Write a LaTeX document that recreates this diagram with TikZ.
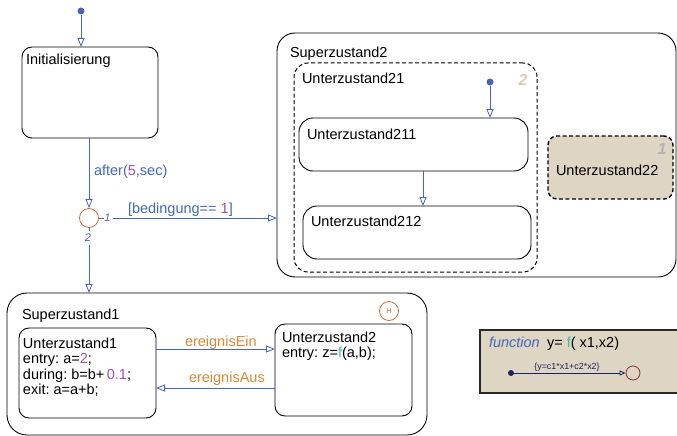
\documentclass[tikz,border=0pt]{standalone}
\usepackage{fontspec}
\setmainfont{Liberation Sans}
\usetikzlibrary{arrows.meta}
\frenchspacing
\definecolor{cblue}{RGB}{76,100,178}
\definecolor{tblue}{RGB}{66,104,182}
\definecolor{cpurple}{RGB}{158,82,168}
\definecolor{corange}{RGB}{214,138,58}
\definecolor{cjunc}{RGB}{198,112,62}
\definecolor{ctan}{RGB}{222,213,194}
\definecolor{ctannum}{RGB}{218,204,180}
\definecolor{cgraynum}{RGB}{178,178,178}
\definecolor{cteal}{RGB}{64,188,176}
\definecolor{cnavy}{RGB}{30,34,96}
\definecolor{cdred}{RGB}{140,48,52}
\definecolor{cframe}{RGB}{40,40,40}
\tikzset{
  txt/.style={anchor=base west, inner sep=0pt, outer sep=0pt, font=\fontsize{14.5}{17}\selectfont},
  statebox/.style={draw=black, line width=0.9pt, rounded corners=10pt, anchor=north west,
    inner sep=0pt, outer sep=0pt},
  dashbox/.style={statebox, line width=1pt, dash pattern=on 4pt off 2.5pt},
  conn/.style={draw=cblue, line width=0.8pt, -{Triangle[open,length=9pt,width=7pt]}},
  plainline/.style={draw=cblue, line width=0.8pt},
  dot/.style={circle, fill=cblue, inner sep=0pt, minimum size=7pt},
  jnum/.style={inner sep=0pt, text=cblue, font=\fontsize{11}{13}\selectfont\itshape},
  ordnum/.style={inner sep=0pt, font=\fontsize{16}{18}\selectfont\bfseries\itshape},
}
\begin{document}
\begin{tikzpicture}[x=1pt,y=-1pt]
\useasboundingbox (0,0) rectangle (677,436);

% ---------- Initialisierung and junction ----------
\node[statebox, minimum width=136pt, minimum height=91pt] (init) at (22,47) {};
\node[txt] (initT) at (26,65) {Initialisierung};
\node[dot] (d0) at (81,11) {};
\draw[conn] (d0) -- (d0 |- init.north);

\node[circle, draw=cjunc, line width=0.8pt, minimum size=19pt, inner sep=0pt] (j) at (89,218) {};
\draw[conn] (init.south -| j) -- (j.north);
\node[txt, text=tblue] (afterT) at (94,175) {after(\textcolor{cpurple}{5},sec)};

% branch 1 to Superzustand2
\coordinate (j1end) at (104,218);
\coordinate (j1start) at (113,218);
\draw[plainline] (j.east) -- (j1end);
\node[jnum] (n1) at (107.5,218) {1};
\node[txt, text=tblue] (condT) at (128,213) {[bedingung== \textcolor{cpurple}{1}]};

% branch 2 to Superzustand1
\coordinate (j2end) at (89,231);
\coordinate (j2start) at (89,245);
\draw[plainline] (j.south) -- (j2end);
\node[jnum] (n2) at (88,238) {2};

% ---------- Superzustand2 ----------
\node[statebox, rounded corners=18pt, minimum width=399pt, minimum height=244pt] (sz2) at (277,33) {};
\node[txt] (sz2T) at (290,57) {Superzustand2};
\draw[conn] (j1start) -- (sz2.west |- j1start);

\node[dashbox, rounded corners=14pt, minimum width=243pt, minimum height=209pt] (u21) at (294,63) {};
\node[txt] (u21T) at (302,84) {Unterzustand21};
\node[ordnum, text=ctannum] (o2) at (523,80) {2};
\node[dot] (d1) at (490,82) {};

\node[statebox, rounded corners=14pt, minimum width=229pt, minimum height=53pt] (u211) at (299,118) {};
\node[txt] (u211T) at (307,139) {Unterzustand211};
\node[statebox, rounded corners=14pt, minimum width=228pt, minimum height=53pt] (u212) at (303,206) {};
\node[txt] (u212T) at (311,226) {Unterzustand212};
\draw[conn] (d1) -- (d1 |- u211.north);
\coordinate (mx) at (423,0);
\draw[conn] (u211.south -| mx) -- (u212.north -| mx);

\node[dashbox, line width=1.4pt, fill=ctan, rounded corners=9pt, minimum width=125pt, minimum height=63pt] (u22) at (548,136) {};
\node[ordnum, text=cgraynum] (o1) at (662,149) {1};
\node[txt] (u22T) at (556,175) {Unterzustand22};

% ---------- Superzustand1 ----------
\node[statebox, rounded corners=20pt, minimum width=420pt, minimum height=142pt] (sz1) at (7,293) {};
\node[txt] (sz1T) at (22,319) {Superzustand1};
\draw[conn] (j2start) -- (j2start |- sz1.north);

\node[circle, draw=cjunc, line width=0.8pt, minimum size=19pt, inner sep=0pt,
      text=cjunc, font=\fontsize{7.5}{8}\selectfont] (hist) at (389,311) {H};

\node[statebox, minimum width=137pt, minimum height=90pt] (u1) at (19,328) {};
\node[txt] (u1a) at (23,348) {Unterzustand1};
\node[txt] (u1b) at (23,363.5) {entry: a=\textcolor{cpurple}{2};};
\node[txt] (u1c) at (23,379) {during: b=b+\,\textcolor{cpurple}{0.1};};
\node[txt] (u1d) at (23,394.5) {exit: a=a+b;};

\node[statebox, minimum width=137pt, minimum height=92pt] (u2) at (275,324) {};
\node[txt] (u2a) at (282,342) {Unterzustand2};
\node[txt] (u2b) at (282,357) {entry: z=\textcolor{cteal}{f}(a,b);};

\coordinate (yein) at (0,349);
\coordinate (yaus) at (0,388);
\draw[conn] (u1.east |- yein) -- (u2.west |- yein);
\draw[conn] (u2.west |- yaus) -- (u1.east |- yaus);
\node[txt, text=corange] (einT) at (185,346) {ereignisEin};
\node[txt, text=corange] (ausT) at (189,382) {ereignisAus};

% ---------- graphical function ----------
\node[draw=cframe, line width=1.8pt, fill=ctan, anchor=north west, inner sep=0pt,
      minimum width=205pt, minimum height=63pt] (fn) at (479,329) {};
\node[txt, text=tblue, font=\fontsize{14.5}{17}\selectfont\itshape] (fnK) at (489,347) {function};
\node[txt] (fnS) at (547,347) {y= \textcolor{cteal}{f}( x1,x2)};
\node[circle, fill=cnavy, inner sep=0pt, minimum size=6pt] (fd) at (511,373) {};
\node[circle, draw=cdred, line width=0.8pt, inner sep=0pt, minimum size=14pt] (fc) at (633,373) {};
\draw[draw=cnavy, line width=0.8pt, -{Triangle[open,length=6pt,width=5pt]}] (fd) -- (fc.west);
\node[inner sep=0pt, anchor=base, text=cnavy, font=\fontsize{8.9}{10}\selectfont] (fnA) at (567,369) {\{y=c1*x1+c2*x2\}};
\end{tikzpicture}
\end{document}
